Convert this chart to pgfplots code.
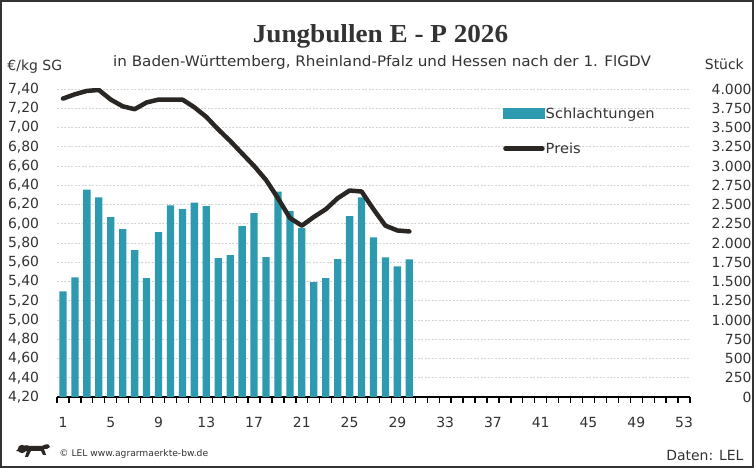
\documentclass[border=0pt]{standalone}
\usepackage{pgfplots}
\pgfplotsset{compat=1.18}
\usepackage{fontspec}
\setmainfont{DejaVu Sans}
\newfontfamily\subfont{DejaVu Sans}[FakeStretch=1.05]
\newfontfamily\titlefont{Liberation Serif}[FakeStretch=1.05]
\definecolor{barcol}{HTML}{2E9AAF}
\definecolor{linecol}{HTML}{2A2623}
\definecolor{txtcol}{HTML}{333333}
\definecolor{gridcol}{HTML}{D4D4D4}
\begin{document}
\begin{tikzpicture}[x=1bp,y=1bp]
\useasboundingbox (0,0) rectangle (754,468);
\fill[white] (0,0) rectangle (754,468);
% bars, right axis
\begin{axis}[
  at={(57bp,71bp)}, anchor=south west, scale only axis,
  width=633bp, height=308bp,
  xmin=0.5, xmax=53.5, ymin=0, ymax=4000,
  axis x line*=bottom, axis y line*=right,
  x axis line style={-, black, line width=2bp},
  y axis line style={draw=none},
  /pgf/number format/assume math mode=true,
  /pgf/number format/use comma,
  /pgf/number format/1000 sep={.},
  xtick={1,5,...,53}, major x tick style={draw=none},
  minor xtick={0.5,1.5,...,53.5}, minor tick length=6bp,
  minor x tick style={black, line width=1.3bp},
  tick align=outside,
  ytick={0,250,...,4000}, ytick style={draw=none},
  ymajorgrids, major grid style={gridcol, line width=0.6bp, dash pattern=on 2bp off 1.5bp},
  tick label style={font=\fontsize{14}{17}\selectfont, text=txtcol},
  yticklabel style={anchor=east, inner sep=0pt, xshift=57.5bp},
  xticklabel style={anchor=north, inner sep=0pt, yshift=-16bp},
]
\addplot[ybar, bar width=7.3bp, fill=barcol, draw=none] coordinates {
(1,1372) (2,1554) (3,2693) (4,2594) (5,2335) (6,2180) (7,1908) (8,1545)
(9,2141) (10,2490) (11,2439) (12,2525) (13,2478) (14,1804) (15,1843)
(16,2219) (17,2387) (18,1817) (19,2668) (20,2413) (21,2193) (22,1493)
(23,1545) (24,1791) (25,2348) (26,2594) (27,2072) (28,1813) (29,1696) (30,1787)
};
\end{axis}
% line, left axis
\begin{axis}[
  at={(57bp,71bp)}, anchor=south west, scale only axis,
  width=633bp, height=308bp,
  xmin=0.5, xmax=53.5, ymin=4.2, ymax=7.4,
  axis x line=none, axis y line*=left,
  y axis line style={draw=none},
  /pgf/number format/assume math mode=true,
  /pgf/number format/fixed, /pgf/number format/fixed zerofill,
  /pgf/number format/precision=2, /pgf/number format/use comma,
  ytick={4.2,4.4,4.6,4.8,5.0,5.2,5.4,5.6,5.8,6.0,6.2,6.4,6.6,6.8,7.0,7.2,7.4},
  ytick style={draw=none},
  tick label style={font=\fontsize{14}{17}\selectfont, text=txtcol},
  yticklabel style={anchor=east, inner sep=0pt, xshift=-17.7bp},
  legend style={at={(0.7046,0.944)}, anchor=north west, draw=none, fill=none,
    font=\subfont\fontsize{14}{17}\selectfont, text=txtcol, row sep=21bp, inner sep=0pt,
    nodes={inner sep=1bp}},
  legend cell align=left,
]
\addlegendimage{legend image code/.code={\fill[barcol] (0bp,-5bp) rectangle (41bp,5bp);}}
\addlegendentry{Schlachtungen}
\addplot[line width=4.5bp, color=linecol, line join=round, line cap=round,
  legend image code/.code={\draw[line width=4.5bp, line cap=round, color=linecol] (2bp,0bp) -- (39bp,0bp);}]
 coordinates {
(1,7.30) (2,7.345) (3,7.38) (4,7.39) (5,7.29) (6,7.22) (7,7.19) (8,7.26)
(9,7.29) (10,7.29) (11,7.29) (12,7.21) (13,7.11) (14,6.98) (15,6.86)
(16,6.73) (17,6.60) (18,6.455) (19,6.265) (20,6.06) (21,5.98) (22,6.07)
(23,6.15) (24,6.265) (25,6.345) (26,6.335) (27,6.15) (28,5.98) (29,5.93) (30,5.92)
};
\addlegendentry{Preis}
\end{axis}
\node[font=\titlefont\bfseries\fontsize{26}{30}\selectfont, text=txtcol, anchor=base, inner sep=0pt] at (380.5,425.7) {Jungbullen E - P 2026};
\node[font=\subfont\fontsize{14.5}{17}\selectfont, text=txtcol, anchor=base, inner sep=0pt] at (382,401.3) {in Baden-Württemberg, Rheinland-Pfalz und Hessen nach der 1. FlGDV};
\node[font=\fontsize{14}{17}\selectfont, text=txtcol, anchor=base west, inner sep=0pt] at (7.3,397) {€/kg SG};
\node[font=\fontsize{14}{17}\selectfont, text=txtcol, anchor=base east, inner sep=0pt] at (744,398) {Stück};
\node[font=\fontsize{9.2}{11}\selectfont, text=txtcol, anchor=base west, inner sep=0pt] at (59.3,11) {© LEL www.agrarmaerkte-bw.de};
\node[font=\fontsize{14}{17}\selectfont, text=txtcol, anchor=base east, inner sep=0pt] at (743.7,7.3) {Daten: LEL};
% small heraldic lion logo (approximate silhouette)
\fill[linecol] (16,17) .. controls (20,22) and (26,24) .. (30,22) -- (42,22)
  .. controls (46,24) and (49,25) .. (50,21) -- (47,19) -- (44,19) -- (46,13) -- (43,13) -- (41,17)
  -- (31,17) -- (28,11) -- (25,11) -- (27,17) -- (22,16) -- cycle;
\fill[linecol] (22,19) circle (4.2);
\draw[line width=1.6bp, color=txtcol] (0.8,0.8) rectangle (753.2,467.2);
\end{tikzpicture}
\end{document}
